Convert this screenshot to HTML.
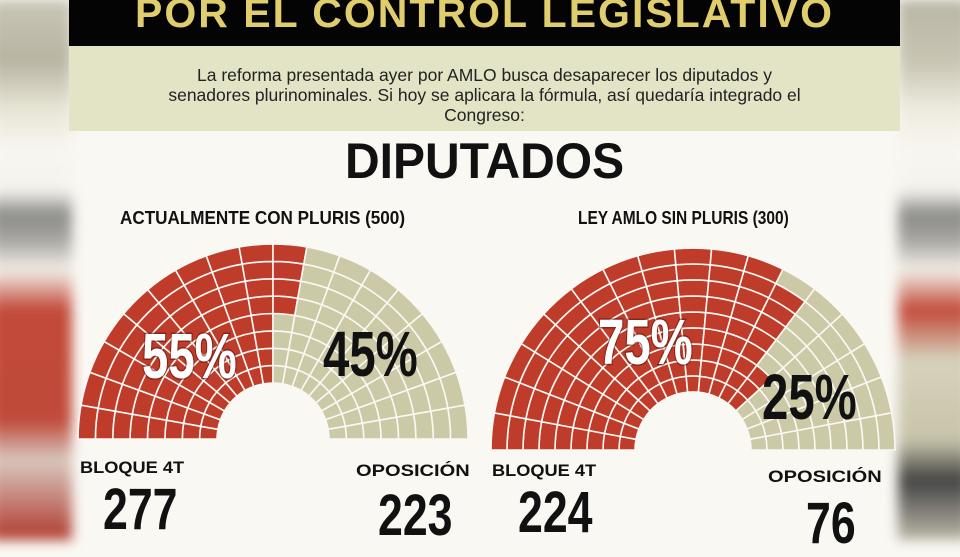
<!DOCTYPE html>
<html><head><meta charset="utf-8"><style>
body{margin:0;width:960px;height:540px;overflow:hidden;background:#faf8f3;font-family:"Liberation Sans",sans-serif;position:relative}
.side{position:absolute;top:0;height:540px;filter:blur(6px)}
#l{left:-10px;width:82px;background:linear-gradient(#c9c6b6 0,#b8b4a2 60px,#e8e6d6 110px,#f8f6f0 150px,#f5f3ee 190px,#8a8a88 215px,#a9a7a1 240px,#f2efe8 270px,#c24a3a 310px,#bf4a3a 420px,#d8c8c0 460px,#b03a2e 540px)}
#r{right:-10px;width:72px;background:linear-gradient(#b9b6a6 0,#c8c4b2 60px,#eeece0 110px,#f8f6f0 150px,#f5f3ee 190px,#8a8a88 215px,#a9a7a1 240px,#f2efe8 270px,#c24a3a 310px,#d6d2bc 360px,#c8c4aa 440px,#444 480px,#bcb8a6 540px)}
#hdr{position:absolute;left:69px;width:831px;top:0;height:46px;background:#040404;overflow:hidden}
#hdr div{position:absolute;left:0;right:0;top:-10px;text-align:center;color:#e0cd6e;font-weight:bold;font-size:41px;letter-spacing:2px}
#band{position:absolute;left:69px;width:831px;top:46px;height:85px;background:#e3e3c5;text-align:center;font-size:17.5px;line-height:20px;color:#222;padding-top:19px;box-sizing:border-box}
.t{position:absolute;white-space:nowrap;font-weight:bold;color:#111;transform-origin:left}
.n{font-size:58px;transform:scaleX(.77)}
</style></head><body>
<div class="side" id="l"></div><div class="side" id="r"></div>
<div id="hdr"><div>POR EL CONTROL LEGISLATIVO</div></div>
<div id="band">La reforma presentada ayer por AMLO busca desaparecer los diputados y<br>senadores plurinominales. Si hoy se aplicara la fórmula, así quedaría integrado el<br>Congreso:</div>
<div class="t" style="left:345px;top:132px;font-size:50px;transform:scaleX(.96)">DIPUTADOS</div>
<div class="t" style="left:120px;top:208px;font-size:18px;transform:scaleX(.95)">ACTUALMENTE CON PLURIS (500)</div>
<div class="t" style="left:578px;top:208px;font-size:18px;transform:scaleX(.86)">LEY AMLO SIN PLURIS (300)</div>
<svg width="960" height="540" style="position:absolute;left:0;top:0" id="s"></svg>
<div class="t" style="left:80px;top:458px;font-size:17px;transform:scaleX(1.07)">BLOQUE 4T</div>
<div class="t n" style="left:103px;top:476px">277</div>
<div class="t" style="left:356px;top:461px;font-size:17px;transform:scaleX(1.18)">OPOSICIÓN</div>
<div class="t n" style="left:378px;top:482px">223</div>
<div class="t" style="left:492px;top:461px;font-size:17px;transform:scaleX(1.07)">BLOQUE 4T</div>
<div class="t n" style="left:518px;top:479px">224</div>
<div class="t" style="left:768px;top:467px;font-size:17px;transform:scaleX(1.18)">OPOSICIÓN</div>
<div class="t n" style="left:806px;top:490px">76</div>
<script>
var s=document.getElementById('s'),h='';
function chart(cx,cy,r0,R,n,k,th0,th1){
 var w=(R-r0)/n;
 for(var i=0;i<n;i++){
  var a=r0+i*w,b=a+w,th=th0+(th1-th0)*i/(n-1);
  for(var j=0;j<k;j++){
   var t1=Math.PI-j*Math.PI/k,t2=Math.PI-(j+1)*Math.PI/k,mid=(j+.5)*180/k;
   var c=mid<th?'#bf3b2a':'#cbc9a6';
   var p=[[a,t1],[b,t1],[b,t2],[a,t2]].map(function(q){return (cx+q[0]*Math.cos(q[1])).toFixed(1)+','+(cy-q[0]*Math.sin(q[1])).toFixed(1)});
   h+='<path d="M'+p[0]+'L'+p[1]+'A'+b+','+b+' 0 0 1 '+p[2]+'L'+p[3]+'A'+a+','+a+' 0 0 0 '+p[0]+'Z" fill="'+c+'" stroke="#faf8f3" stroke-width="1.6"/>';
  }
 }
}
chart(273,439,56,195,8,18,90,101);
chart(693,450,58,202,9,17,138,120);
function txt(x,y,t,c){h+='<text x="'+x+'" y="'+y+'" font-family="Liberation Sans" font-weight="bold" font-size="64" fill="'+c+'" transform="translate('+x+' 0) scale(.74 1) translate('+(-x)+' 0)" style="paint-order:stroke" stroke="'+(c=='#fff'?'rgba(80,20,10,.5)':'none')+'" stroke-width="3">'+t+'</text>';}
txt(142,378,'55%','#fff');txt(323,376,'45%','#111');
txt(598,364,'75%','#fff');txt(762,419,'25%','#111');
s.innerHTML=h;
</script>
</body></html>
